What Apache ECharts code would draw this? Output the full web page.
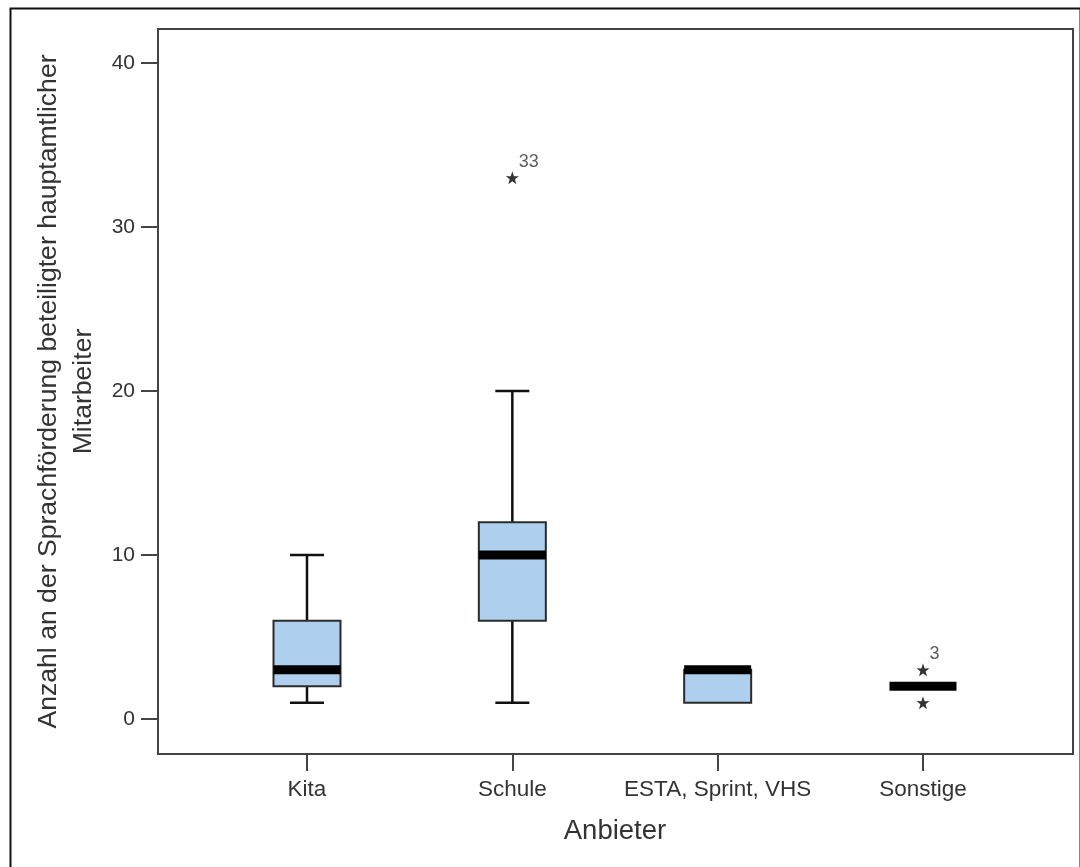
<!DOCTYPE html>
<html>
<head>
<meta charset="utf-8">
<script src="https://cdn.jsdelivr.net/npm/echarts@6/dist/echarts.min.js"></script>
<style>
html,body{margin:0;padding:0;background:#fff;}
#chart{width:1080px;height:867px;}
</style>
</head>
<body>
<div id="chart"></div>
<script>
const categories = ['Kita', 'Schule', 'ESTA, Sprint, VHS', 'Sonstige'];
const lowWhisker = [1, 1, 1, 2];
const q1Values = [2, 6, 1, 2];
const medianValues = [3, 10, 3, 2];
const q3Values = [6, 12, 3, 2];
const highWhisker = [10, 20, 3, 2];
const outlierCategory = [1, 3, 3];
const outlierValues = [33, 3, 1];
const outlierLabels = ['33', '3', ''];
const yTicks = [0, 10, 20, 30, 40];
const yTitle = 'Anzahl an der Sprachförderung beteiligter hauptamtlicher\nMitarbeiter';
const xTitle = 'Anbieter';

const boxData = categories.map((c, i) => [i, lowWhisker[i], q1Values[i], medianValues[i], q3Values[i], highWhisker[i]]);
const outlierData = outlierValues.map((v, i) => ({ value: [outlierCategory[i], v], label: { formatter: outlierLabels[i] } }));

const FONT = '"Liberation Sans", Arial, sans-serif';
const TXT = '#333';
const YMIN = -2.13, YMAX = 42.07;
const star = 'path://M50,0 L61.8,35.1 L97.6,34.5 L69,56.2 L79.4,90.5 L50,70 L20.6,90.5 L31,56.2 L2.4,34.5 L38.2,35.1 Z';

const chart = echarts.init(document.getElementById('chart'), null, { renderer: 'canvas' });

function renderBox(params, api) {
  const x = api.value(0);
  const lo = api.value(1), q1 = api.value(2), med = api.value(3), q3 = api.value(4), hi = api.value(5);
  const pLo = api.coord([x, lo]);
  const pQ1 = api.coord([x, q1]);
  const pMed = api.coord([x, med]);
  const pQ3 = api.coord([x, q3]);
  const pHi = api.coord([x, hi]);
  const cx = pLo[0];
  const bw = 67, cw = 34;
  const lineStyle = { stroke: '#111', lineWidth: 2.5, fill: null };
  const children = [];
  if (lo < q1) {
    children.push({ type: 'line', shape: { x1: cx, y1: pLo[1], x2: cx, y2: pQ1[1] }, style: lineStyle });
    children.push({ type: 'line', shape: { x1: cx - cw / 2, y1: pLo[1], x2: cx + cw / 2, y2: pLo[1] }, style: lineStyle });
  }
  if (hi > q3) {
    children.push({ type: 'line', shape: { x1: cx, y1: pQ3[1], x2: cx, y2: pHi[1] }, style: lineStyle });
    children.push({ type: 'line', shape: { x1: cx - cw / 2, y1: pHi[1], x2: cx + cw / 2, y2: pHi[1] }, style: lineStyle });
  }
  if (q3 > q1) {
    children.push({ type: 'rect', shape: { x: cx - bw / 2, y: pQ3[1], width: bw, height: pQ1[1] - pQ3[1] },
      style: { fill: '#aed0ee', stroke: '#2b2b2b', lineWidth: 2 } });
  }
  children.push({ type: 'rect', shape: { x: cx - bw / 2, y: pMed[1] - 4.5, width: bw, height: 9 }, style: { fill: '#000' } });
  return { type: 'group', children: children };
}

const option = {
  backgroundColor: '#fff',
  animation: false,
  textStyle: { fontFamily: FONT },
  graphic: [
    { type: 'rect', left: 8, top: 6, shape: { width: 1070, height: 870 }, style: { fill: null, stroke: '#111', lineWidth: 2 }, z: 0 }
  ],
  grid: [
    { left: 158, top: 29, width: 915, height: 725, show: true, borderColor: '#444', borderWidth: 2, backgroundColor: 'transparent' },
    { left: 204.33, top: 29, width: 821.33, height: 725 }
  ],
  xAxis: [
    { type: 'value', gridIndex: 0, min: 0, max: 1, show: false },
    {
      type: 'category', gridIndex: 1, data: categories, position: 'bottom',
      axisLine: { show: false, onZero: false },
      axisTick: { show: true, alignWithLabel: true, length: 17, lineStyle: { color: '#444', width: 2 } },
      axisLabel: { color: TXT, fontSize: 22.5, fontFamily: FONT, margin: 24, interval: 0 },
      name: xTitle, nameLocation: 'middle', nameGap: 63,
      nameTextStyle: { color: TXT, fontSize: 27.5, fontFamily: FONT }
    }
  ],
  yAxis: [
    {
      type: 'value', gridIndex: 0, min: YMIN, max: YMAX,
      axisLine: { show: true, onZero: false, lineStyle: { color: '#444', width: 2 } },
      axisTick: { show: true, length: 17, customValues: yTicks, lineStyle: { color: '#444', width: 2 } },
      axisLabel: { color: TXT, fontSize: 21, fontFamily: FONT, margin: 23, customValues: yTicks },
      splitLine: { show: false },
      name: yTitle, nameLocation: 'middle', nameGap: 50, nameRotate: 90,
      nameTextStyle: { color: TXT, fontSize: 26.6, fontFamily: FONT, lineHeight: 35, align: 'center' }
    },
    { type: 'value', gridIndex: 1, min: YMIN, max: YMAX, show: false, splitLine: { show: false } }
  ],
  series: [
    {
      type: 'custom', xAxisIndex: 1, yAxisIndex: 1,
      data: boxData, renderItem: renderBox,
      encode: { x: 0, y: [1, 2, 3, 4, 5] }, z: 2
    },
    {
      type: 'scatter', xAxisIndex: 1, yAxisIndex: 1,
      data: outlierData, symbol: star, symbolSize: 13,
      itemStyle: { color: '#000' },
      label: { show: true, position: 'right', distance: 0, offset: [0, -16], color: TXT, fontSize: 18, fontFamily: FONT },
      z: 3
    }
  ]
};
chart.setOption(option);
</script>
</body>
</html>
